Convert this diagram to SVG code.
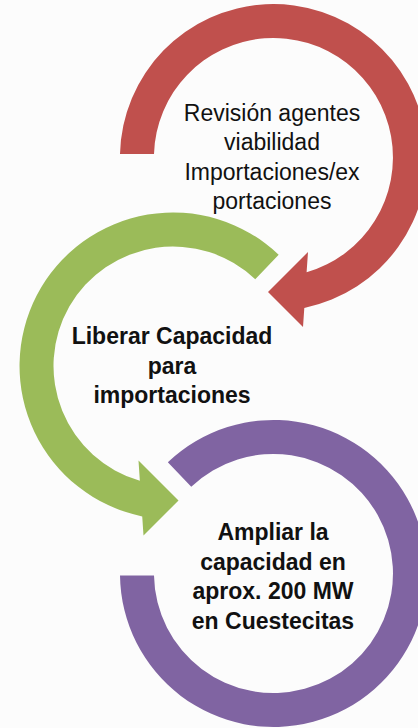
<svg xmlns="http://www.w3.org/2000/svg" width="418" height="728" viewBox="0 0 418 728">
<style>
.lbl{font-family:"Liberation Sans",Arial,sans-serif;font-size:23px;fill:#111;text-anchor:middle}
.b{font-weight:bold}
.red{fill:#C0504D}
.green{fill:#9BBB59}
.purple{fill:#8064A2}
</style>
<rect width="418" height="728" fill="#fcfcfc"/>
<g id="node-revision">
<path class="red" d="M120,154 A153.5,153.5 0 1 1 304.3,307.9 L303,327 L268,292 L308,252 L306.6,272.3 A119.5,119.5 0 1 0 154,154 Z"/>
<text class="lbl" x="272" y="121">Revisión agentes</text>
<text class="lbl" x="272" y="150.3">viabilidad</text>
<text class="lbl" x="272" y="179.6">Importaciones/ex</text>
<text class="lbl" x="272" y="208.9">portaciones</text>
</g>
<g id="node-liberar">
<path class="green" d="M278.67,254.65 A153.5,153.5 0 1 0 142.23,516.4 L143.5,535.5 L178.5,500.5 L138.5,460.5 L139.85,480.8 A119.5,119.5 0 1 1 255.26,279.31 Z"/>
<text class="lbl b" x="172" y="344">Liberar Capacidad</text>
<text class="lbl b" x="172" y="373.5">para</text>
<text class="lbl b" x="172" y="403">importaciones</text>
</g>
<g id="node-ampliar">
<path class="purple" d="M167.83,462.15 A153.5,153.5 0 1 1 120,575.5 L154,575.5 A119.5,119.5 0 1 0 191.24,486.81 Z"/>
<text class="lbl b" x="273" y="540">Ampliar la</text>
<text class="lbl b" x="273" y="569.5">capacidad en</text>
<text class="lbl b" x="273" y="599">aprox. 200 MW</text>
<text class="lbl b" x="273" y="628.5">en Cuestecitas</text>
</g>
<g id="connectors"/>
</svg>
